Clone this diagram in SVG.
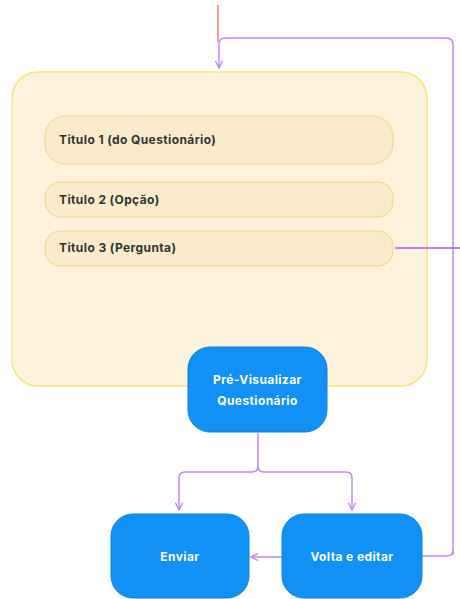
<svg xmlns="http://www.w3.org/2000/svg" width="460" height="599" viewBox="0 0 460 599">
<style>
.cont{fill:#fdf3dc;stroke:#fde37e;stroke-width:1.5}
.item{fill:#f9ebcc;stroke:#ebd68c;stroke-width:1}
.itxt{font-family:Inter,"Liberation Sans",sans-serif;font-weight:700;font-size:12px;letter-spacing:0.4px;fill:#333333}
.btn{fill:#1190f5;stroke:#0b7fe0;stroke-width:1}
.btxt{font-family:Inter,"Liberation Sans",sans-serif;font-weight:700;font-size:12px;letter-spacing:0.4px;fill:#ffffff;text-anchor:middle}
.con{fill:none;stroke:#bf86fb;stroke-width:1.5;stroke-linejoin:round}
</style>
<defs>
<marker id="arr" viewBox="0 0 10 10" refX="9" refY="5" markerWidth="9" markerHeight="9" markerUnits="userSpaceOnUse" orient="auto">
<path d="M1,1 L9,5 L1,9" fill="none" stroke="#bf86fb" stroke-width="1.5"/>
</marker>
</defs>
<g id="container">
<rect class="cont" x="12" y="72" width="415" height="314" rx="26"/>
</g>
<g id="titulo1">
<rect class="item" x="45" y="116" width="348" height="48" rx="20"/>
<text class="itxt" x="59" y="144">Titulo 1 (do Questionário)</text>
</g>
<g id="titulo2">
<rect class="item" x="45" y="182" width="348" height="35" rx="15"/>
<text class="itxt" x="59" y="204">Titulo 2 (Opção)</text>
</g>
<g id="titulo3">
<rect class="item" x="45" y="231" width="348" height="35" rx="15"/>
<text class="itxt" x="59" y="252">Titulo 3 (Pergunta)</text>
</g>
<g id="connectors">
<line x1="218" y1="5" x2="218" y2="42" stroke="#f2876a" stroke-width="1.5"/>
<path class="con" d="M453,555 L453,45 Q453,38 446,38 L225,38 Q219,38 219,44 L219,68" marker-end="url(#arr)"/>
<line x1="395" y1="248" x2="460" y2="248" stroke="#a259f0" stroke-width="1.5"/>
<path class="con" d="M258,433 L258,466 Q258,472 252,472 L185,472 Q179,472 179,478 L179,510" marker-end="url(#arr)"/>
<path class="con" d="M258,466 Q258,472 264,472 L346,472 Q352,472 352,478 L352,510" marker-end="url(#arr)"/>
<path class="con" d="M282,557 L251,557" marker-end="url(#arr)"/>
<path class="con" d="M422,556 L447,556 Q453,556 453,550"/>
</g>
<g id="previsualizar">
<rect class="btn" x="188" y="347" width="139" height="85" rx="22"/>
<text class="btxt" x="257.5" y="384">Pré-Visualizar</text>
<text class="btxt" x="257.5" y="405">Questionário</text>
</g>
<g id="enviar">
<rect class="btn" x="111" y="514" width="138" height="84" rx="22"/>
<text class="btxt" x="180" y="561">Enviar</text>
</g>
<g id="volta">
<rect class="btn" x="282" y="514" width="140" height="84" rx="22"/>
<text class="btxt" x="352" y="561">Volta e editar</text>
</g>
</svg>
